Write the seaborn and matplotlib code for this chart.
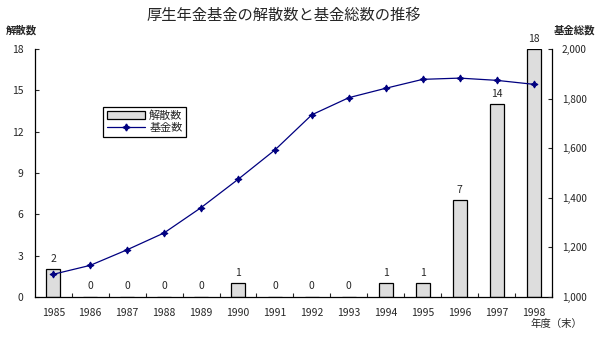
import numpy as np
import pandas as pd
import matplotlib
matplotlib.use("Agg")
import matplotlib.pyplot as plt
import matplotlib.ticker as mticker
from matplotlib.patches import Patch
from matplotlib.lines import Line2D
import seaborn as sns

years = ["1985", "1986", "1987", "1988", "1989", "1990", "1991",
         "1992", "1993", "1994", "1995", "1996", "1997", "1998"]
dissolved = [2, 0, 0, 0, 0, 1, 0, 0, 0, 1, 1, 7, 14, 18]
funds = [1091, 1127, 1190, 1258, 1360, 1474, 1593,
         1735, 1804, 1842, 1878, 1883, 1874, 1858]
left_ticks = [0, 3, 6, 9, 12, 15, 18]
right_ticks = [1000, 1200, 1400, 1600, 1800, 2000]

sns.set_style("white")
plt.rcParams['font.family'] = ['Noto Sans CJK JP', 'DejaVu Sans']

df = pd.DataFrame({"year": years, "dissolved": dissolved,
                   "funds": funds, "pos": np.arange(len(years))})

fig = plt.figure(figsize=(6, 3.4), dpi=100)
ax = fig.add_axes([0.058, 0.127, 0.862, 0.7285])

sns.barplot(data=df, x="year", y="dissolved", ax=ax, color="#DDDDDD",
            saturation=1, width=0.38, edgecolor="black", linewidth=0.9)
ax.set_xlim(-0.5, len(years) - 0.5)
ax.set_ylim(0, 18)
ax.set_yticks(left_ticks)
ax.set_xlabel("")
ax.set_ylabel("")

for i, v in enumerate(dissolved):
    ax.annotate(str(v), (i, v), xytext=(0, 4), textcoords="offset points",
                ha="center", va="bottom", fontsize=7.5)

ax2 = ax.twinx()
sns.lineplot(data=df, x="pos", y="funds", ax=ax2, color="#000080",
             linewidth=0.9, marker=(4, 1, 0), markersize=5,
             markeredgecolor="#000080", markerfacecolor="#000080")
ax2.set_ylim(1000, 2000)
ax2.set_yticks(right_ticks)
ax2.yaxis.set_major_formatter(mticker.FuncFormatter(lambda v, p: f"{int(v):,}"))
ax2.set_xlim(-0.5, len(years) - 0.5)
ax2.set_xlabel("")
ax2.set_ylabel("")

for a in (ax, ax2):
    a.spines["top"].set_visible(False)
    for s in ("left", "right", "bottom"):
        a.spines[s].set_color("black")
        a.spines[s].set_linewidth(0.9)
ax.spines["right"].set_visible(False)
ax2.spines["left"].set_visible(False)
ax2.spines["bottom"].set_visible(False)

ax.tick_params(axis="y", direction="in", length=3, width=0.8, labelsize=7.5,
               left=True, pad=8)
ax2.tick_params(axis="y", direction="in", length=3, width=0.8, labelsize=7.2,
                right=True, pad=7)
ax.tick_params(axis="x", which="major", length=0, labelsize=7.5, pad=8)
ax.set_xticks(np.arange(len(years)) + 0.5, minor=True)
ax.tick_params(axis="x", which="minor", direction="in", length=3, width=0.8,
               bottom=True)
ax.set_xticks(np.arange(len(years)))
ax.set_xticklabels(years)

handles = [Patch(facecolor="#DDDDDD", edgecolor="black", linewidth=0.9),
           Line2D([], [], color="#000080", linewidth=0.9, marker=(4, 1, 0),
                  markersize=5)]
leg = ax2.legend(handles, ["解散数", "基金数"], loc="upper left",
                 bbox_to_anchor=(0.132, 0.768), fontsize=8, frameon=True,
                 fancybox=False, edgecolor="black", framealpha=1,
                 handlelength=3.4, handleheight=0.7, borderpad=0.35,
                 labelspacing=0.15, handletextpad=0.4, borderaxespad=0)
leg.get_frame().set_linewidth(0.9)

fig.text(0.473, 0.955, "厚生年金基金の解散数と基金総数の推移", ha="center",
         va="center", fontsize=11)
fig.text(0.035, 0.91, "解散数", ha="center", va="center", fontsize=7.5,
         fontweight="bold")
fig.text(0.957, 0.91, "基金総数", ha="center", va="center", fontsize=7.5,
         fontweight="bold")
fig.text(0.928, 0.048, "年度（末）", ha="center", va="center", fontsize=7.5)

fig.savefig("out.png", dpi=100)
